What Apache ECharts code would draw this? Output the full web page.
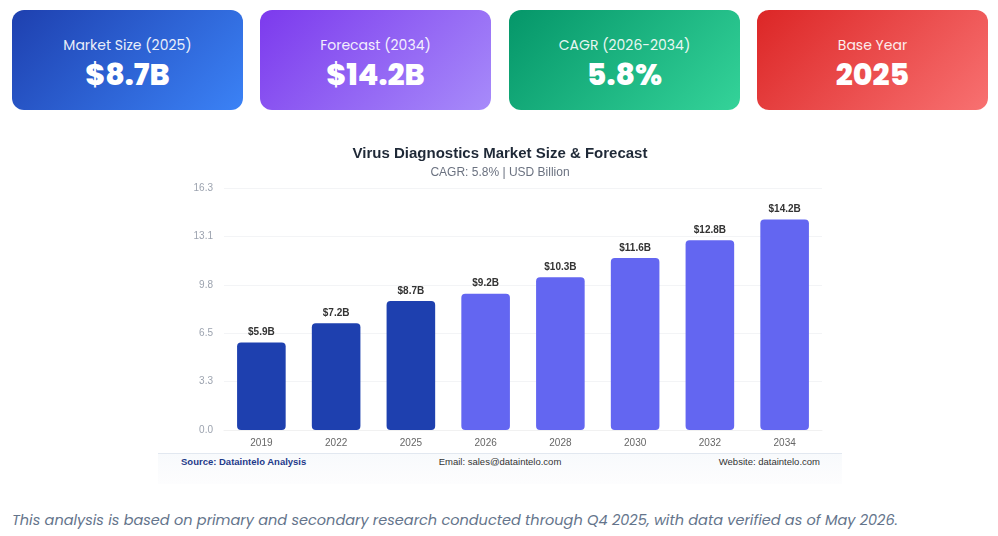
<!DOCTYPE html>
<html>
<head>
<meta charset="utf-8">
<script src="https://cdn.jsdelivr.net/npm/echarts@6/dist/echarts.min.js"></script>
<style>
  html, body { margin: 0; padding: 0; background: #fff; width: 998px; height: 536px; overflow: hidden; }
  body { position: relative; font-family: "Poppins", "Inter", "Noto Sans", sans-serif; }
  .card { position: absolute; top: 10px; width: 231px; height: 100px; border-radius: 12px; color: #fff; text-align: center; }
  .card .lbl { position: absolute; left: 0; right: 0; top: 25px; font-size: 14px; opacity: 0.9; }
  .card .val { position: absolute; left: 0; right: 0; top: 47px; font-size: 30px; font-weight: 800; line-height: 1.2; }
  #chart { position: absolute; left: 158px; top: 135px; width: 684px; height: 318px; }
  #footer { position: absolute; left: 158px; top: 453px; width: 684px; height: 30px; border-top: 1px solid #e2e8f0;
            background: linear-gradient(#f8fafc, #fdfdfe); font-family: "Liberation Sans", Arial, sans-serif; font-size: 9.5px; color: #333; }
  #footer span { position: absolute; top: 2px; }
  #note { position: absolute; left: 12px; top: 510px; font-size: 14.5px; font-style: italic; color: #64748b; }
</style>
</head>
<body>
<div id="cards"></div>
<div id="chart"></div>
<div id="footer">
  <span style="left:23px;color:#1e3a8a;font-weight:bold;">Source: Dataintelo Analysis</span>
  <span style="left:0;right:0;text-align:center;">Email: sales@dataintelo.com</span>
  <span style="right:22px;">Website: dataintelo.com</span>
</div>
<div id="note">This analysis is based on primary and secondary research conducted through Q4 2025, with data verified as of May 2026.</div>
<script>
// --- data ---
const years = ['2019', '2022', '2025', '2026', '2028', '2030', '2032', '2034'];
const marketSize = [5.9, 7.2, 8.7, 9.2, 10.3, 11.6, 12.8, 14.2];
const historicalCount = 3; // 2019-2025 are actuals, rest forecast

const cardLabels = ['Market Size (2025)', 'Forecast (2034)', 'CAGR (2026-2034)', 'Base Year'];
const cardValues = ['$8.7B', '$14.2B', '5.8%', '2025'];
const cardColors = [
  ['#1e40af', '#3b82f6'],
  ['#7c3aed', '#a78bfa'],
  ['#059669', '#34d399'],
  ['#dc2626', '#f87171']
];
const cardLefts = [12, 260, 509, 757];

// --- summary cards ---
const cardsEl = document.getElementById('cards');
cardsEl.innerHTML = cardLabels.map((lbl, i) => `
  <div class="card" style="left:${cardLefts[i]}px;background:linear-gradient(135deg, ${cardColors[i][0]}, ${cardColors[i][1]});">
    <div class="lbl">${lbl}</div>
    <div class="val">${cardValues[i]}</div>
  </div>`).join('');

// --- chart ---
const yMax = 16.33;
const chart = echarts.init(document.getElementById('chart'), null, { renderer: 'canvas' });

const barData = marketSize.map((v, i) => ({
  value: v,
  itemStyle: { color: i < historicalCount ? '#1e40af' : '#6366f1' }
}));

chart.setOption({
  animation: false,
  textStyle: { fontFamily: '"Liberation Sans", Arial, sans-serif' },
  title: {
    text: 'Virus Diagnostics Market Size & Forecast',
    subtext: 'CAGR: 5.8% | USD Billion',
    left: 'center',
    top: 6,
    itemGap: 6,
    textStyle: { fontSize: 15, fontWeight: 'bold', color: '#1f2937' },
    subtextStyle: { fontSize: 12, color: '#6b7280' }
  },
  grid: { left: 66, right: 20, top: 53, bottom: 23 },
  xAxis: {
    type: 'category',
    data: years,
    axisTick: { show: false },
    axisLine: { lineStyle: { color: '#f1f1f1' } },
    axisLabel: { color: '#666', fontSize: 10, margin: 8 }
  },
  yAxis: {
    type: 'value',
    min: 0,
    max: yMax,
    interval: yMax / 5,
    axisLine: { show: false },
    axisTick: { show: false },
    splitLine: { lineStyle: { color: '#f3f4f6' } },
    axisLabel: { color: '#9ca3af', fontSize: 10, margin: 11, formatter: v => v.toFixed(1) }
  },
  series: [{
    type: 'bar',
    data: barData,
    barWidth: '65%',
    itemStyle: { borderRadius: 4 },
    label: {
      show: true,
      position: 'top',
      distance: 5,
      fontSize: 10,
      fontWeight: 'bold',
      color: '#333',
      formatter: p => '$' + p.value.toFixed(1) + 'B'
    }
  }]
});
</script>
</body>
</html>
